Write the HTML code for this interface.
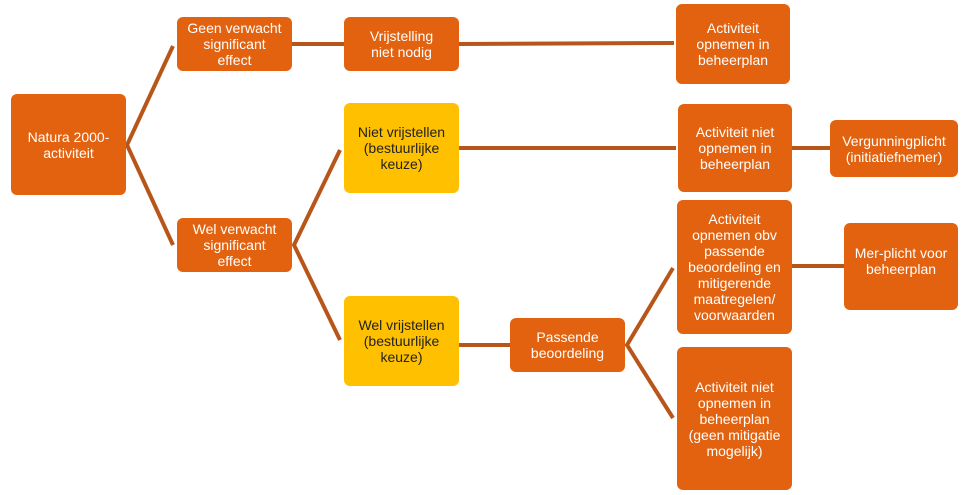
<!DOCTYPE html>
<html><head><meta charset="utf-8"><style>
body{margin:0;width:973px;height:495px;background:#fff;position:relative;overflow:hidden;font-family:"Liberation Sans",Arial,sans-serif}
.b{position:absolute;background:#E2620F;color:#fff;border-radius:6px;display:flex;align-items:center;justify-content:center;text-align:center;font-size:14px;line-height:16px;box-sizing:border-box;padding:0 2px}
.y{background:#FFC000;color:#222}
svg{position:absolute;left:0;top:0}
</style></head><body>
<svg width="973" height="495"><g stroke="#B8561A" stroke-width="4" fill="none">
<polyline points="173,46 127,145 173,245"/>
<polyline points="340,150 294,245 340,340"/>
<line x1="292" y1="44" x2="344" y2="44"/>
<line x1="459" y1="44" x2="674" y2="43"/>
<line x1="459" y1="148" x2="676" y2="148"/>
<line x1="792" y1="148" x2="830" y2="148"/>
<line x1="459" y1="345" x2="510" y2="345"/>
<polyline points="673,268 627,345 673,418"/>
<line x1="792" y1="266" x2="844" y2="266"/>
</g></svg>
<div class="b" style="left:11px;top:94px;width:115px;height:101px">Natura 2000-<br>activiteit</div>
<div class="b" style="left:177px;top:17px;width:115px;height:54px">Geen verwacht<br>significant<br>effect</div>
<div class="b" style="left:344px;top:17px;width:115px;height:54px">Vrijstelling<br>niet nodig</div>
<div class="b" style="left:676px;top:4px;width:114px;height:80px">Activiteit<br>opnemen in<br>beheerplan</div>
<div class="b" style="left:177px;top:218px;width:115px;height:54px">Wel verwacht<br>significant<br>effect</div>
<div class="b y" style="left:344px;top:103px;width:115px;height:90px">Niet vrijstellen<br>(bestuurlijke<br>keuze)</div>
<div class="b y" style="left:344px;top:296px;width:115px;height:90px">Wel vrijstellen<br>(bestuurlijke<br>keuze)</div>
<div class="b" style="left:510px;top:318px;width:115px;height:54px">Passende<br>beoordeling</div>
<div class="b" style="left:678px;top:104px;width:114px;height:88px">Activiteit niet<br>opnemen in<br>beheerplan</div>
<div class="b" style="left:830px;top:120px;width:128px;height:57px">Vergunningplicht<br>(initiatiefnemer)</div>
<div class="b" style="left:677px;top:200px;width:115px;height:134px">Activiteit<br>opnemen obv<br>passende<br>beoordeling en<br>mitigerende<br>maatregelen/<br>voorwaarden</div>
<div class="b" style="left:844px;top:223px;width:114px;height:87px;align-items:flex-start;padding-top:22px">Mer-plicht voor<br>beheerplan</div>
<div class="b" style="left:677px;top:347px;width:115px;height:143px">Activiteit niet<br>opnemen in<br>beheerplan<br>(geen mitigatie<br>mogelijk)</div>
</body></html>
